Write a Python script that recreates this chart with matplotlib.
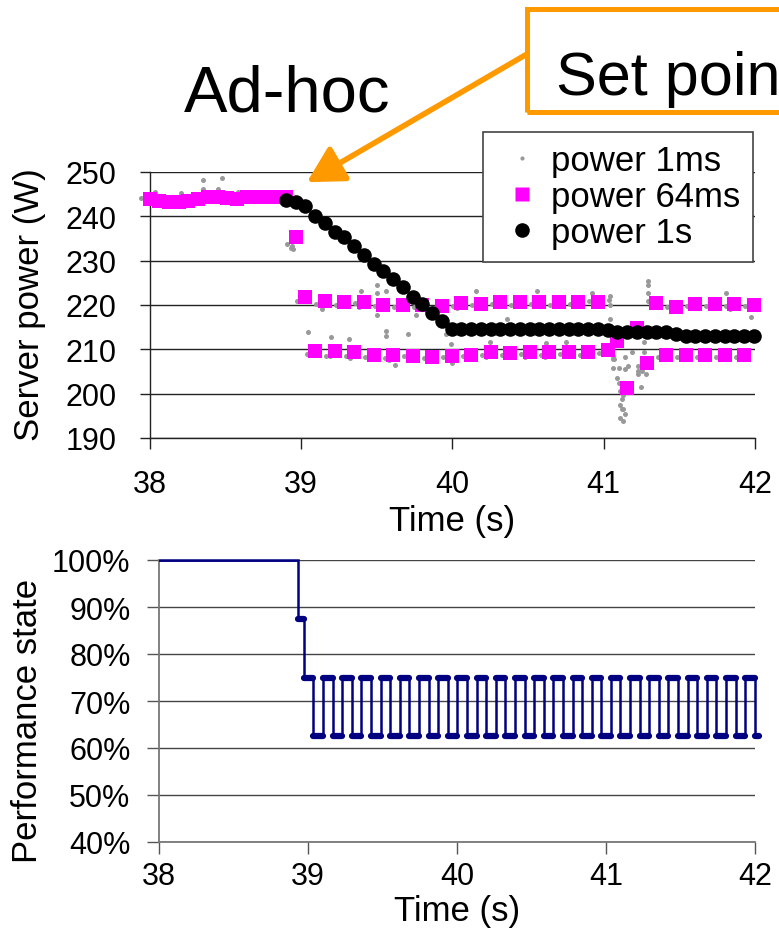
import matplotlib
matplotlib.use("Agg")
import matplotlib.pyplot as plt
import matplotlib.patches as mpatches
from matplotlib.lines import Line2D
import numpy as np

plt.rcParams["font.family"] = ["Liberation Sans", "DejaVu Sans"]

# ---- data: server power (W) ----
step = 0.0644  # 64 ms sampling windows
# power 64ms, one value per window starting at t = 38.0
power_64ms = [
    243.8, 243.5, 243.3, 243.3, 243.4, 244.0, 244.3, 244.3, 244.2, 243.9,
    244.3, 244.4, 244.4, 244.4, 244.4, 235.3,
    221.7, 209.7, 221.0, 209.6, 220.6, 209.3, 220.6, 208.7, 220.1, 208.7,
    220.1, 208.5, 220.0, 208.3, 219.7, 208.6, 220.4, 208.8, 220.3, 209.3,
    220.6, 209.2, 220.6, 209.3, 220.6, 209.3, 220.6, 209.3, 220.6, 209.3,
    220.6, 209.8, 211.9, 201.2, 214.9, 207.0, 220.4, 208.7, 219.6, 208.7,
    220.2, 208.7, 220.2, 208.7, 220.2, 208.7, 220.1,
]
# power 1s (moving average), starts at window 14
power_1s_start = 14
power_1s = [
    243.7, 243.3, 242.3, 240.1, 238.6, 236.5, 235.3, 233.2, 231.3, 229.2,
    227.7, 225.8, 224.1, 221.9, 220.2, 218.2, 216.4, 214.6, 214.6, 214.6,
    214.6, 214.6, 214.6, 214.6, 214.6, 214.6, 214.6, 214.6, 214.6, 214.6,
    214.6, 214.6, 214.6, 214.4, 214.0, 213.8, 213.8, 213.8, 213.8, 213.8,
    213.5, 213.1, 213.1, 213.1, 213.1, 213.1, 213.1, 213.1, 213.1,
]
# power 1ms readings near the start of each window (early / mid)
gray_early = [
    244.2, 243.6, 243.2, 243.0, 243.6, 244.2, 244.8, 244.6, 244.4, 244.0,
    244.6, 244.6, 244.5, 244.6, 244.7, 233.8,
    220.8, 209.0, 220.3, 208.6, 220.0, 208.6, 220.4, 208.2, 219.8, 208.0,
    219.6, 208.4, 219.6, 208.0, 219.3, 208.2, 219.8, 208.4, 219.9, 208.8,
    220.2, 208.8, 220.0, 208.9, 220.2, 208.8, 220.0, 208.9, 220.3, 208.8,
    220.9, 209.2, 221.2, 205.9, 206.3, 204.4, 221.0, 208.2, 219.6, 208.2,
    219.8, 208.2, 219.8, 208.2, 219.8, 208.2, 219.7,
]
gray_mid = [
    243.0, 243.0, 242.8, 242.9, 243.2, 244.8, 245.0, 244.9, 245.0, 243.4,
    244.9, 245.0, 245.0, 244.9, 244.8, 232.8,
    221.2, 208.8, 220.0, 208.4, 219.8, 208.0, 219.6, 207.8, 219.2, 207.6,
    219.5, 207.8, 219.2, 207.4, 219.0, 207.8, 219.4, 208.0, 219.4, 208.2,
    219.8, 208.3, 219.7, 208.3, 219.8, 208.2, 219.8, 208.4, 219.8, 208.4,
    221.6, 210.6, 207.8, 196.6, 209.4, 205.2, 219.6, 207.9, 219.0, 207.8,
    219.4, 207.8, 219.4, 207.8, 219.2, 207.9, 219.3,
]
# scattered 1ms outliers
gray_out_t = [
    38.036, 38.21, 38.354, 38.354, 38.45, 38.477, 38.586, 38.94, 38.95,
    39.05, 39.14, 39.20, 39.32, 39.40, 39.50, 39.50, 39.50, 39.56, 39.56,
    39.56, 39.62, 39.71, 39.76, 39.96, 40.0, 39.99, 40.16, 40.25, 40.36,
    40.56, 40.64, 40.62, 40.75, 40.92, 41.04, 41.04, 41.04,
    41.06, 41.07, 41.065, 41.09, 41.10, 41.11, 41.12, 41.11, 41.12, 41.11,
    41.13, 41.14, 41.14, 41.14, 41.125, 41.13,
    41.23, 41.23, 41.25, 41.27, 41.27, 41.28, 41.29, 41.29, 41.29,
    41.81, 41.975,
]
gray_out_w = [
    245.6, 245.2, 248.2, 246.2, 246.2, 248.6, 245.6, 233.4, 232.6,
    214.0, 219.1, 212.8, 212.4, 223.2, 224.4, 222.8, 217.8, 223.2, 214.1,
    213.0, 206.4, 213.4, 217.8, 213.4, 207.0, 211.2, 223.2, 211.6, 216.8,
    223.2, 215.3, 211.5, 211.7, 222.8, 222.1, 216.8, 220.0,
    205.9, 207.8, 208.6, 203.6, 202.5, 200.6, 198.8, 197.4, 196.6, 194.6,
    193.9, 195.4, 205.5, 208.2, 199.8, 201.5,
    206.3, 205.2, 201.6, 211.6, 209.4, 204.4, 225.5, 224.4, 222.8,
    222.8, 217.2,
]

# ---- data: performance state (%) ----
perf_vals = [100, 87.5] + [
    75, 62.5, 75, 62.5, 75, 62.5, 75, 62.5, 75, 62.5, 75, 62.5,
    75, 62.5, 75, 62.5, 75, 62.5, 75, 62.5, 75, 62.5, 75, 62.5,
    75, 62.5, 75, 62.5, 75, 62.5, 75, 62.5, 75, 62.5, 75, 62.5,
    75, 62.5, 75, 62.5, 75, 62.5, 75, 62.5, 75, 62.5, 75, 62.5,
]
perf_first_edges = [38.0, 38.935]
perf_osc_start = 38.972
perf_end = 42.03

x_ticks = [38, 39, 40, 41, 42]
power_ticks = [190, 200, 210, 220, 230, 240, 250]
perf_ticks = [40, 50, 60, 70, 80, 90, 100]

# sample times
t64 = 38.0 + step * np.arange(len(power_64ms))
t1s = t64[power_1s_start:power_1s_start + len(power_1s)]
perf_edges = np.concatenate([perf_first_edges,
                             perf_osc_start + step * np.arange(len(perf_vals) - 2),
                             [perf_end]])

W, H = 779, 945
fig = plt.figure(figsize=(W / 100, H / 100), dpi=100)

orange = "#FF9900"
navy = "#000080"
gray = "#999999"

# ---------------- top panel ----------------
ax1 = fig.add_axes([149.5 / W, 1 - 439 / H, (755 - 149.5) / W, (439 - 173) / H])
ax1.set_xlim(38, 42)
ax1.set_ylim(190, 250)
ax1.set_xticks(x_ticks)
ax1.set_yticks(power_ticks)
ax1.grid(axis="y", color="#222222", lw=1.0)
ax1.set_axisbelow(True)
for s in ["top", "right"]:
    ax1.spines[s].set_visible(False)
for s in ["left", "bottom"]:
    ax1.spines[s].set_color("#222222")
    ax1.spines[s].set_linewidth(1.0)
ax1.tick_params(axis="x", labelsize=22, length=8, width=1, pad=14, color="#222222")
ax1.tick_params(axis="y", labelsize=22, length=7.5, width=1, pad=16, color="#222222")

ax1.scatter(t64 - 0.056, gray_early, s=13, color=gray, lw=0, zorder=2, clip_on=False)
ax1.scatter(t64 - 0.030, gray_mid, s=13, color=gray, lw=0, zorder=2, clip_on=False)
ax1.scatter(gray_out_t, gray_out_w, s=13, color=gray, lw=0, zorder=2, clip_on=False)
ax1.scatter(t64, power_64ms, s=95, marker="s", color="#FF00FF", lw=0, zorder=3, clip_on=False)
ax1.scatter(t1s, power_1s, s=110, marker="o", color="black", lw=0, zorder=4, clip_on=False)

handles = [
    Line2D([], [], ls="none", marker="o", ms=3, color=gray, mec="none"),
    Line2D([], [], ls="none", marker="s", ms=10, color="#FF00FF", mec="none"),
    Line2D([], [], ls="none", marker="o", ms=10.5, color="black", mec="none"),
]
leg = ax1.legend(handles, ["power 1ms", "power 64ms", "power 1s"],
                 loc="upper left", bbox_to_anchor=(483 / W, 1 - 133 / H),
                 bbox_transform=fig.transFigure, fontsize=25, frameon=True,
                 fancybox=False, framealpha=1, edgecolor="#444444",
                 borderaxespad=0, borderpad=0.36, labelspacing=0.08,
                 handlelength=1.5, handletextpad=0.1)
leg.get_frame().set_linewidth(1.2)
leg.set_zorder(10)

# annotations
ax1.annotate("", xy=(39.04, 247.7), xycoords="data",
             xytext=(527 / W, 1 - 55 / H), textcoords="figure fraction",
             arrowprops=dict(arrowstyle="-|>,head_length=1.0,head_width=0.55",
                             color=orange, lw=4.0, shrinkA=0, shrinkB=0,
                             mutation_scale=22),
             annotation_clip=False)
fig.add_artist(mpatches.Rectangle((527 / W, 1 - 113 / H), 0.5, 103 / H,
                                  transform=fig.transFigure, fill=False,
                                  edgecolor=orange, lw=3.6))
fig.text(184 / W, 1 - 112 / H, "Ad-hoc", fontsize=47, ha="left", va="baseline")
fig.text(556 / W, 1 - 95 / H, "Set point", fontsize=44, ha="left", va="baseline")

fig.text(30 / W, 1 - 305 / H, "Server power (W)", fontsize=25, rotation=90,
         ha="center", va="center")
fig.text(452 / W, 1 - 521 / H, "Time (s)", fontsize=25, ha="center", va="center")

# ---------------- bottom panel ----------------
ax2 = fig.add_axes([159 / W, 1 - 843 / H, (755 - 159) / W, (843 - 561) / H])
ax2.set_xlim(38, 42)
ax2.set_ylim(40, 100)
ax2.set_xticks(x_ticks)
ax2.set_yticks(perf_ticks)
ax2.set_yticklabels([f"{v}%" for v in perf_ticks])
ax2.grid(axis="y", color="#444444", lw=1.0)
ax2.set_axisbelow(True)
for s in ["top", "right"]:
    ax2.spines[s].set_visible(False)
for s in ["left", "bottom"]:
    ax2.spines[s].set_color("#777777")
    ax2.spines[s].set_linewidth(1.3)
ax2.tick_params(axis="x", labelsize=22, length=8.5, width=1, pad=5, color="#555555")
ax2.tick_params(axis="y", labelsize=22, length=8.5, width=1, pad=12, color="#555555")

ax2.stairs(perf_vals, perf_edges, baseline=None, color=navy, lw=1.8, zorder=3,
           clip_on=False)
ax2.hlines(perf_vals[:1], perf_edges[:1], perf_edges[1:2], color=navy, lw=2.6,
           zorder=3)
ax2.hlines(perf_vals[1:], perf_edges[1:-1], perf_edges[2:], color=navy, lw=4.5,
           capstyle="round", zorder=3, clip_on=False)

fig.text(28 / W, 1 - 721 / H, "Performance state", fontsize=25, rotation=90,
         ha="center", va="center")
fig.text(457 / W, 1 - 912 / H, "Time (s)", fontsize=25, ha="center", va="center")

fig.savefig("out.png", dpi=100)
